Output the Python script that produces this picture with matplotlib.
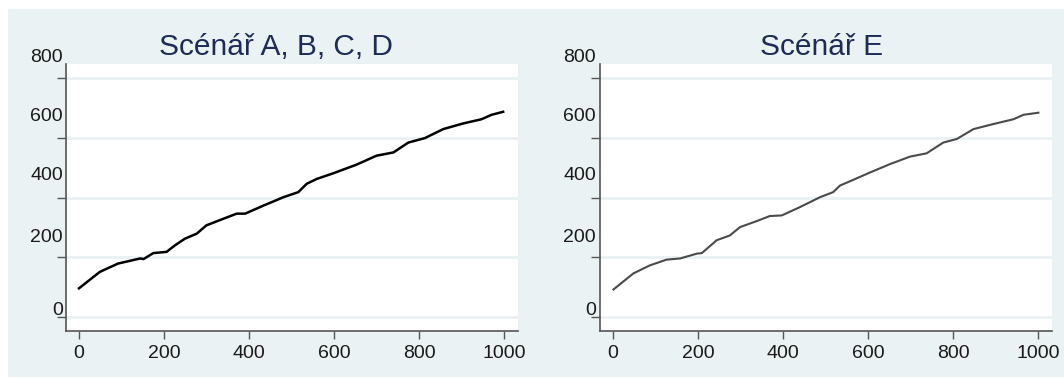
import matplotlib
matplotlib.use('Agg')
import matplotlib.pyplot as plt
import matplotlib.transforms as mtransforms
from matplotlib.patches import Rectangle

plt.rcParams['font.family'] = ['Liberation Sans', 'DejaVu Sans']

# values
x_abcd = [0, 49, 92, 144, 152, 175, 206, 226, 249, 277, 300, 340, 371, 391, 434, 481,
          516, 536, 559, 598, 653, 700, 740, 775, 814, 857, 904, 947, 971, 998]
y_abcd = [96, 151, 179, 196, 194, 214, 218, 240, 262, 279, 307, 329, 346, 346, 373, 401,
          418, 446, 462, 481, 510, 540, 551, 584, 599, 629, 648, 662, 677, 687]

x_e = [1, 48, 87, 126, 158, 197, 209, 244, 275, 299, 338, 369, 397, 440, 487, 518,
       534, 565, 605, 652, 699, 738, 777, 809, 848, 895, 942, 966, 1001]
y_e = [92, 146, 173, 192, 196, 212, 214, 257, 273, 301, 321, 338, 340, 368, 401, 418,
       440, 459, 484, 512, 537, 548, 584, 596, 629, 646, 662, 677, 684]

titles = ['Scénář A, B, C, D', 'Scénář E']
yticks = [0, 200, 400, 600, 800]
xticks = [0, 200, 400, 600, 800, 1000]

bg = '#EAF2F3'
grid_c = '#E9F1F2'
navy = '#1F2B57'

fig = plt.figure(figsize=(10.64, 3.78), dpi=100)
fig.patch.set_facecolor('white')
fig.patches.append(Rectangle((0.0075, 0.0026), 1.0, 0.9735, transform=fig.transFigure,
                             facecolor=bg, edgecolor='none', zorder=-5))

# label offsets upward in px (labels sit above their ticks in the original)
lab_dy = [7, 20, 22, 21, 21]

panels = [
    (0.0620, x_abcd, y_abcd, 'black', 1.8, 0.2594, -3),
    (0.5639, x_e, y_e, '#4a4a4a', 1.5, 0.7726, -4),
]

for i, (left, xs, ys, col, lw, tx, lx) in enumerate(panels):
    ax = fig.add_axes([left, 0.1243, 0.4248, 0.7063])
    ax.set_zorder(1)
    ax.set_facecolor('white')
    ax.plot(xs, ys, color=col, linewidth=lw, zorder=3)
    ax.set_xlim(-30.6, 1032.9)
    ax.set_ylim(-46.9, 846.9)
    for s in ['top', 'right']:
        ax.spines[s].set_visible(False)
    for s in ['left', 'bottom']:
        ax.spines[s].set_color('#555555')
        ax.spines[s].set_linewidth(1.2)
    ax.set_xticks(xticks)
    ax.set_xticklabels([str(v) for v in xticks], fontsize=14, color='#1a1a1a')
    ax.set_yticks(yticks)
    ax.set_yticklabels([])
    ax.tick_params(axis='x', length=6, width=1.0, color='#555555', pad=4)
    ax.tick_params(axis='y', length=6.5, width=1.0, color='#555555')
    ax.grid(axis='y', color=grid_c, linewidth=2)
    ax.set_axisbelow(True)
    base = ax.get_yaxis_transform()
    for v, dy in zip(yticks, lab_dy):
        off = mtransforms.ScaledTranslation(lx / 100, dy / 100, fig.dpi_scale_trans)
        ax.text(0, v, str(v), transform=base + off, ha='right', va='center',
                fontsize=14, color='#1a1a1a', clip_on=False)
    fig.text(tx, 0.8757, titles[i], ha='center', va='center', fontsize=21.5, color=navy)

fig.savefig('out.png', dpi=100)
